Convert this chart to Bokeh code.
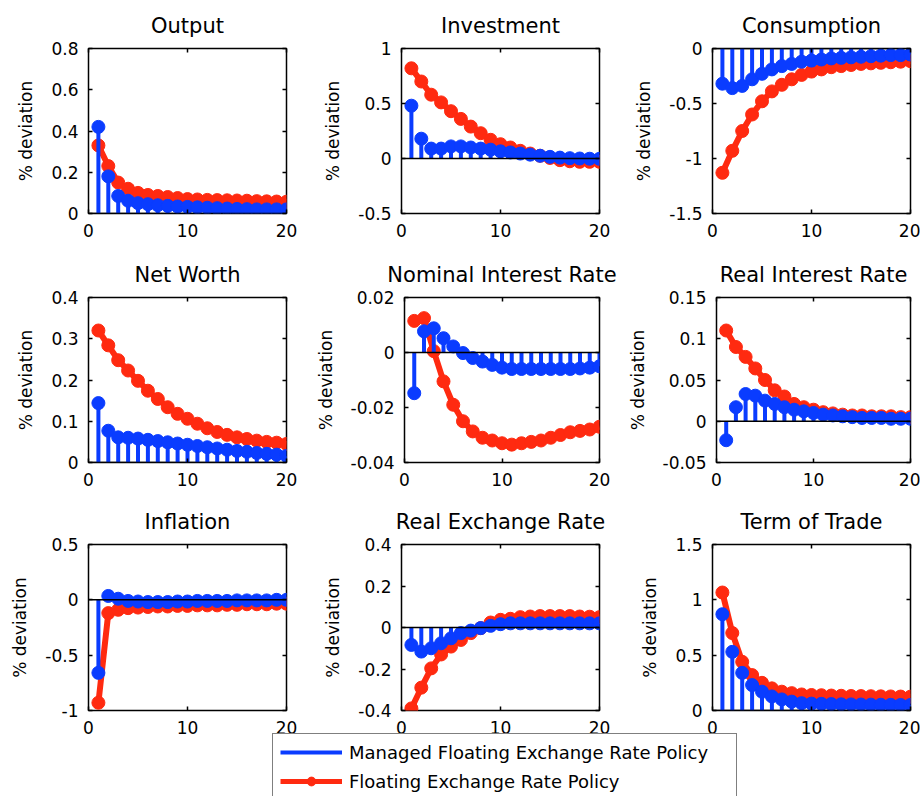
from bokeh.plotting import figure
from bokeh.models import (FixedTicker, Range1d, Span, LinearAxis, Legend, LegendItem,
                          ColumnDataSource, CustomLabelingPolicy)
from bokeh.layouts import column, row
from bokeh.embed import file_html
from bokeh.resources import INLINE

# ---------------- data ----------------
periods = list(range(1, 21))
x_ticks = [0, 10, 20]
x_tick_labels = ["0", "10", "20"]

titles = ["Output", "Investment", "Consumption",
          "Net Worth", "Nominal Interest Rate", "Real Interest Rate",
          "Inflation", "Real Exchange Rate", "Term of Trade"]

output_managed = [0.42, 0.18, 0.085, 0.062, 0.05, 0.045, 0.04, 0.037, 0.034, 0.032,
                  0.03, 0.028, 0.026, 0.024, 0.022, 0.021, 0.02, 0.02, 0.02, 0.02]
output_floating = [0.33, 0.23, 0.15, 0.12, 0.10, 0.09, 0.085, 0.08, 0.075, 0.07,
                   0.068, 0.066, 0.065, 0.064, 0.063, 0.062, 0.06, 0.059, 0.058, 0.057]

investment_managed = [0.48, 0.18, 0.09, 0.09, 0.11, 0.11, 0.10, 0.09, 0.08, 0.065,
                      0.055, 0.045, 0.035, 0.025, 0.015, 0.008, 0.003, 0.0, -0.002, -0.003]
investment_floating = [0.82, 0.70, 0.58, 0.51, 0.43, 0.36, 0.29, 0.23, 0.17, 0.13,
                       0.10, 0.07, 0.045, 0.025, 0.005, -0.015, -0.025, -0.03, -0.03, -0.03]

consumption_managed = [-0.32, -0.36, -0.34, -0.28, -0.23, -0.19, -0.16, -0.14, -0.12, -0.11,
                       -0.10, -0.09, -0.085, -0.08, -0.075, -0.07, -0.065, -0.06, -0.06, -0.055]
consumption_floating = [-1.13, -0.93, -0.75, -0.60, -0.48, -0.39, -0.33, -0.28, -0.24, -0.21,
                        -0.19, -0.17, -0.16, -0.15, -0.14, -0.135, -0.13, -0.125, -0.12, -0.115]

networth_managed = [0.144, 0.077, 0.061, 0.06, 0.058, 0.055, 0.052, 0.049, 0.046, 0.043,
                    0.04, 0.037, 0.034, 0.031, 0.028, 0.026, 0.023, 0.021, 0.019, 0.016]
networth_floating = [0.32, 0.284, 0.248, 0.223, 0.198, 0.174, 0.154, 0.134, 0.118, 0.106,
                     0.094, 0.083, 0.074, 0.067, 0.061, 0.057, 0.053, 0.05, 0.048, 0.045]

nominal_managed = [-0.0148, 0.0077, 0.0088, 0.0052, 0.0022, -0.0002, -0.002, -0.0033, -0.0045, -0.0055,
                   -0.006, -0.006, -0.006, -0.006, -0.006, -0.006, -0.006, -0.0058, -0.0055, -0.005]
nominal_floating = [0.0115, 0.0125, 0.0005, -0.0105, -0.019, -0.025, -0.0287, -0.031, -0.032, -0.033,
                    -0.0335, -0.033, -0.0325, -0.032, -0.031, -0.030, -0.029, -0.0285, -0.028, -0.027]

real_rate_managed = [-0.023, 0.017, 0.033, 0.031, 0.025, 0.021, 0.017, 0.014, 0.012, 0.010,
                     0.008, 0.007, 0.006, 0.005, 0.004, 0.004, 0.004, 0.003, 0.003, 0.003]
real_rate_floating = [0.11, 0.09, 0.078, 0.064, 0.05, 0.0375, 0.03, 0.021, 0.017, 0.014,
                      0.011, 0.0095, 0.008, 0.007, 0.007, 0.006, 0.006, 0.006, 0.005, 0.005]

inflation_managed = [-0.66, 0.035, 0.01, -0.01, -0.015, -0.02, -0.02, -0.02, -0.015, -0.015,
                     -0.01, -0.01, -0.01, -0.01, -0.005, -0.005, -0.005, -0.005, 0.0, 0.0]
inflation_floating = [-0.93, -0.12, -0.09, -0.075, -0.07, -0.065, -0.06, -0.06, -0.055, -0.055,
                      -0.05, -0.05, -0.05, -0.045, -0.045, -0.04, -0.04, -0.04, -0.035, -0.035]

rer_managed = [-0.084, -0.116, -0.10, -0.076, -0.052, -0.027, -0.015, -0.003, 0.008, 0.016,
               0.02, 0.02, 0.02, 0.02, 0.02, 0.02, 0.02, 0.02, 0.02, 0.02]
rer_floating = [-0.39, -0.29, -0.197, -0.13, -0.092, -0.06, -0.027, -0.003, 0.024, 0.037,
                0.042, 0.05, 0.053, 0.055, 0.055, 0.055, 0.055, 0.053, 0.052, 0.05]

tot_managed = [0.87, 0.53, 0.34, 0.23, 0.17, 0.127, 0.10, 0.08, 0.066, 0.062,
               0.06, 0.058, 0.056, 0.055, 0.054, 0.053, 0.052, 0.051, 0.05, 0.05]
tot_floating = [1.066, 0.70, 0.44, 0.32, 0.25, 0.20, 0.17, 0.157, 0.145, 0.14,
                0.138, 0.135, 0.133, 0.131, 0.13, 0.129, 0.128, 0.127, 0.126, 0.125]

managed_series = [output_managed, investment_managed, consumption_managed,
                  networth_managed, nominal_managed, real_rate_managed,
                  inflation_managed, rer_managed, tot_managed]
floating_series = [output_floating, investment_floating, consumption_floating,
                   networth_floating, nominal_floating, real_rate_floating,
                   inflation_floating, rer_floating, tot_floating]

y_ranges = [(0, 0.8), (-0.5, 1), (-1.5, 0),
            (0, 0.4), (-0.04, 0.02), (-0.05, 0.15),
            (-1, 0.5), (-0.4, 0.4), (0, 1.5)]
y_ticks = [[0, 0.2, 0.4, 0.6, 0.8], [-0.5, 0, 0.5, 1], [-1.5, -1, -0.5, 0],
           [0, 0.1, 0.2, 0.3, 0.4], [-0.04, -0.02, 0, 0.02], [-0.05, 0, 0.05, 0.1, 0.15],
           [-1, -0.5, 0, 0.5], [-0.4, -0.2, 0, 0.2, 0.4], [0, 0.5, 1, 1.5]]
y_tick_labels = [["0", "0.2", "0.4", "0.6", "0.8"], ["-0.5", "0", "0.5", "1"], ["-1.5", "-1", "-0.5", "0"],
                 ["0", "0.1", "0.2", "0.3", "0.4"], ["-0.04", "-0.02", "0", "0.02"],
                 ["-0.05", "0", "0.05", "0.1", "0.15"],
                 ["-1", "-0.5", "0", "0.5"], ["-0.4", "-0.2", "0", "0.2", "0.4"], ["0", "0.5", "1", "1.5"]]

y_label = "% deviation"
legend_labels = ["Managed Floating Exchange Rate Policy", "Floating Exchange Rate Policy"]
legend_dummy_x = [-2, -1]
legend_dummy_y = [-2, -2]

# ---------------- style ----------------
BLUE = "#0a3cff"
RED = "#ff2a10"
FONT = "DejaVu Sans"

col_widths = [312, 312, 296]
border_left = [88, 89, 88]
frame_w = 198
row_heights = [249, 247, 250]
border_top = 48
frame_heights = [165, 165, 166]

no_labels = CustomLabelingPolicy(code="return new Set()")


def make_panel(i):
    r, c = divmod(i, 3)
    lo, hi = y_ranges[i]
    p = figure(width=col_widths[c], height=row_heights[r],
               x_range=Range1d(0, 20), y_range=Range1d(lo, hi),
               output_backend="svg", toolbar_location=None,
               min_border_left=border_left[c],
               min_border_right=col_widths[c] - border_left[c] - frame_w,
               min_border_top=border_top,
               min_border_bottom=row_heights[r] - border_top - frame_heights[r],
               title=titles[i])
    p.title.text_font = FONT
    p.title.text_font_size = "21px"
    p.title.text_font_style = "normal"
    p.title.text_color = "black"
    p.title.align = "center"
    p.title.standoff = 14
    p.xgrid.grid_line_color = None
    p.ygrid.grid_line_color = None
    p.outline_line_color = "black"
    p.outline_line_width = 1.5
    p.outline_line_alpha = 1.0
    p.background_fill_color = "white"
    p.border_fill_color = "white"

    xt = FixedTicker(ticks=x_ticks)
    yt = FixedTicker(ticks=y_ticks[i])
    for ax in p.xaxis:
        ax.ticker = xt
        ax.major_label_overrides = dict(zip(x_ticks, x_tick_labels))
        ax.major_label_standoff = 10
    for ax in p.yaxis:
        ax.ticker = yt
        ax.major_label_overrides = dict(zip(y_ticks[i], y_tick_labels[i]))
        ax.major_label_standoff = 10
        ax.axis_label = y_label
        ax.axis_label_text_font = FONT
        ax.axis_label_text_font_size = "17px"
        ax.axis_label_text_font_style = "normal"
        ax.axis_label_text_color = "black"
        ax.axis_label_standoff = 12
    for ax in list(p.xaxis) + list(p.yaxis):
        ax.axis_line_color = None
        ax.major_tick_in = 4
        ax.major_tick_out = 0
        ax.major_tick_line_color = "black"
        ax.major_tick_line_width = 1.5
        ax.minor_tick_line_color = None
        ax.major_label_text_font = FONT
        ax.major_label_text_font_size = "17px"
        ax.major_label_text_color = "black"

    # tick marks on the top and right edges of the box, without labels
    for tick, side in ((xt, "above"), (yt, "right")):
        ax = LinearAxis(ticker=tick, axis_line_color=None, major_tick_in=4, major_tick_out=0,
                        major_tick_line_color="black", major_tick_line_width=1.5,
                        minor_tick_line_color=None, major_label_text_font_size="1px",
                        major_label_policy=no_labels, major_label_standoff=0)
        p.add_layout(ax, side)

    src = ColumnDataSource(dict(x=periods, managed=managed_series[i], floating=floating_series[i]))
    p.line("x", "floating", source=src, line_color=RED, line_width=6)
    p.scatter("x", "floating", source=src, size=13, fill_color=RED, line_color=RED)
    p.segment(x0="x", y0=0, x1="x", y1="managed", source=src, line_color=BLUE, line_width=4)
    p.scatter("x", "managed", source=src, size=13, fill_color=BLUE, line_color=BLUE)
    p.add_layout(Span(location=0, dimension="width", line_color="black", line_width=1.5))
    return p


panels = [make_panel(i) for i in range(9)]
rows = [row(*panels[k * 3:(k + 1) * 3]) for k in range(3)]

# ---------------- legend ----------------
lf = figure(width=470, height=64, x_range=Range1d(0, 1), y_range=Range1d(0, 1),
            output_backend="svg", toolbar_location=None, min_border=0,
            x_axis_type=None, y_axis_type=None, margin=(-14, 0, 0, 271))
lf.outline_line_color = None
lf.background_fill_color = None
lf.border_fill_color = None
lf.background_fill_alpha = 0
lf.border_fill_alpha = 0
r_blue = lf.line(x=legend_dummy_x, y=legend_dummy_y, line_color=BLUE, line_width=4)
r_red_line = lf.line(x=legend_dummy_x, y=legend_dummy_y, line_color=RED, line_width=5)
r_red_pt = lf.scatter(x=legend_dummy_x, y=legend_dummy_y, size=12, fill_color=RED, line_color=RED)
legend = Legend(items=[LegendItem(label=legend_labels[0], renderers=[r_blue]),
                       LegendItem(label=legend_labels[1], renderers=[r_red_line, r_red_pt])],
                location="top_left", margin=1, padding=7, spacing=7,
                glyph_width=62, glyph_height=22, label_height=22, label_width=380,
                label_standoff=7, label_text_font=FONT, label_text_font_size="18px",
                label_text_color="black", border_line_color="black", border_line_width=1.5,
                background_fill_color="white", background_fill_alpha=1.0)
lf.add_layout(legend, "center")

layout = column(*rows, lf)
open("out.html", "w").write(file_html(layout, INLINE))
